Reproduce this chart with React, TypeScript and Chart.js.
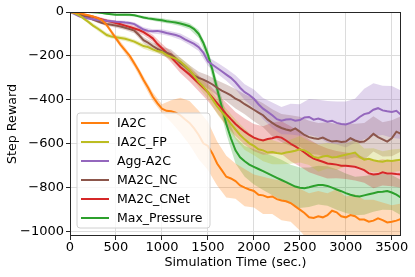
import React, { useEffect, useRef } from 'react';
import { Chart, registerables } from 'chart.js';

Chart.register(...registerables);

const lineTimes = [0, 50, 100, 150, 200, 250, 300, 350, 400, 450, 500, 550, 600, 650, 700, 750, 800, 850, 900, 950, 1000, 1050, 1100, 1150, 1200, 1250, 1300, 1350, 1400, 1450, 1500, 1550, 1600, 1650, 1700, 1750, 1800, 1850, 1900, 1950, 2000, 2050, 2100, 2150, 2200, 2250, 2300, 2350, 2400, 2450, 2500, 2550, 2600, 2650, 2700, 2750, 2800, 2850, 2900, 2950, 3000, 3050, 3100, 3150, 3200, 3250, 3300, 3350, 3400, 3450, 3500, 3550, 3600];
const bandTimes = [0, 100, 200, 300, 400, 500, 600, 700, 800, 900, 1000, 1100, 1200, 1300, 1400, 1500, 1600, 1700, 1800, 1900, 2000, 2100, 2200, 2300, 2400, 2500, 2600, 2700, 2800, 2900, 3000, 3100, 3200, 3300, 3400, 3500, 3600];

const xTicks = [0, 500, 1000, 1500, 2000, 2500, 3000, 3500];
const yTicks = [0, -200, -400, -600, -800, -1000];

const seriesNames = ['IA2C', 'IA2C_FP', 'Agg-A2C', 'MA2C_NC', 'MA2C_CNet', 'Max_Pressure'];
const seriesColors = ['#ff7f0e', '#bcbd22', '#9467bd', '#8c564b', '#d62728', '#2ca02c'];

// mean lines (every 50 s)
const ia2c = [0, -2, -5, -10, -15, -20, -28, -38, -60, -90, -120, -150, -175, -200, -235, -270, -310, -345, -385, -415, -440, -450, -452, -458, -470, -488, -505, -530, -560, -598, -610, -645, -690, -720, -750, -758, -770, -790, -800, -808, -815, -832, -835, -843, -840, -852, -858, -862, -870, -885, -900, -915, -935, -938, -930, -935, -925, -905, -912, -930, -935, -925, -930, -945, -945, -955, -950, -940, -948, -958, -955, -950, -942];
const ia2cFp = [0, -5, -15, -30, -45, -62, -75, -90, -105, -112, -115, -118, -122, -128, -135, -145, -155, -160, -170, -178, -182, -195, -205, -212, -226, -245, -265, -290, -318, -340, -365, -398, -430, -455, -480, -510, -535, -560, -580, -598, -610, -625, -630, -640, -638, -642, -645, -640, -636, -632, -625, -630, -642, -660, -665, -658, -655, -662, -660, -655, -650, -645, -640, -660, -672, -668, -675, -680, -682, -676, -678, -675, -673];
const aggA2c = [0, -10, -20, -26, -30, -33, -36, -38, -40, -42, -44, -45, -48, -50, -55, -68, -80, -86, -88, -86, -90, -96, -100, -105, -112, -125, -135, -145, -160, -185, -225, -240, -255, -270, -285, -300, -320, -345, -365, -378, -395, -420, -440, -455, -470, -488, -495, -490, -488, -495, -492, -480, -478, -490, -485, -492, -500, -495, -505, -510, -512, -505, -495, -478, -465, -460, -445, -438, -448, -452, -455, -450, -468];
const ma2cNc = [0, -5, -10, -18, -25, -35, -42, -50, -55, -58, -62, -66, -72, -78, -85, -105, -128, -140, -155, -168, -178, -185, -193, -212, -232, -248, -268, -290, -300, -308, -318, -330, -345, -358, -368, -380, -395, -405, -420, -432, -445, -458, -470, -490, -505, -518, -528, -535, -540, -530, -545, -560, -570, -575, -578, -572, -582, -590, -588, -592, -590, -575, -585, -592, -590, -575, -555, -570, -580, -590, -575, -545, -555];
const ma2cCnet = [0, -3, -6, -12, -18, -22, -28, -34, -40, -45, -50, -56, -62, -68, -75, -82, -92, -105, -120, -145, -165, -185, -205, -228, -250, -268, -285, -305, -325, -345, -365, -390, -415, -440, -465, -488, -510, -528, -545, -560, -572, -580, -585, -578, -575, -568, -572, -585, -600, -612, -625, -640, -655, -668, -675, -682, -690, -692, -695, -700, -700, -702, -705, -712, -720, -735, -740, -738, -730, -735, -735, -738, -740];
const maxPressure = [0, 0, 0, 0, 0, -1, -2, -5, -8, -10, -12, -13, -12, -13, -15, -20, -25, -29, -32, -35, -38, -42, -45, -48, -52, -58, -65, -78, -100, -140, -195, -265, -350, -430, -510, -575, -630, -662, -680, -695, -705, -715, -725, -735, -745, -755, -765, -775, -785, -795, -800, -802, -798, -792, -788, -788, -792, -800, -808, -816, -825, -832, -838, -840, -835, -830, -825, -820, -818, -815, -822, -832, -845];

// shaded band half-widths (every 100 s)
const ia2cSpread = [0, 3, 5, 8, 10, 12, 15, 15, 18, 20, 20, 50, 80, 100, 110, 110, 100, 95, 80, 85, 75, 85, 80, 90, 85, 95, 110, 115, 100, 105, 95, 100, 90, 95, 80, 75, 70];
const ia2cFpSpread = [0, 5, 8, 10, 10, 10, 10, 10, 12, 12, 12, 15, 18, 22, 25, 30, 35, 40, 45, 48, 42, 50, 55, 48, 55, 60, 55, 62, 58, 60, 52, 58, 50, 55, 48, 52, 50];
const aggA2cSpread = [0, 4, 5, 6, 6, 7, 8, 8, 10, 10, 12, 12, 14, 15, 18, 20, 25, 28, 32, 36, 42, 48, 58, 62, 70, 72, 82, 85, 95, 98, 105, 100, 115, 120, 112, 118, 110];
const ma2cNcSpread = [0, 5, 6, 8, 8, 10, 10, 12, 14, 16, 20, 22, 24, 26, 28, 30, 34, 38, 44, 46, 52, 55, 62, 64, 70, 68, 75, 72, 80, 78, 82, 76, 84, 80, 78, 82, 80];
const ma2cCnetSpread = [0, 5, 6, 8, 8, 10, 10, 12, 14, 16, 20, 24, 28, 32, 36, 40, 45, 52, 55, 60, 62, 65, 72, 75, 80, 78, 75, 70, 68, 62, 60, 62, 58, 62, 60, 58, 60];
const maxPressureSpread = [0, 2, 3, 4, 5, 5, 6, 6, 7, 8, 10, 10, 12, 14, 18, 25, 35, 45, 60, 70, 80, 85, 90, 92, 90, 92, 90, 88, 90, 92, 90, 88, 88, 85, 82, 80, 80];

const allMeans = [ia2c, ia2cFp, aggA2c, ma2cNc, ma2cCnet, maxPressure];
const allSpreads = [ia2cSpread, ia2cFpSpread, aggA2cSpread, ma2cNcSpread, ma2cCnetSpread, maxPressureSpread];

const FONT = "'DejaVu Sans', sans-serif";

function hexA(hex: string, a: number) {
  const r = parseInt(hex.slice(1, 3), 16);
  const g = parseInt(hex.slice(3, 5), 16);
  const b = parseInt(hex.slice(5, 7), 16);
  return `rgba(${r},${g},${b},${a})`;
}

function meanAt(mean: number[], t: number) {
  const idx = lineTimes.indexOf(t);
  return mean[idx];
}

const framePlugin = {
  id: 'frame',
  afterDraw(chart: any) {
    const { ctx, chartArea } = chart;
    ctx.save();
    ctx.strokeStyle = '#262626';
    ctx.lineWidth = 1;
    ctx.strokeRect(chartArea.left + 0.5, chartArea.top + 0.5, chartArea.right - chartArea.left - 1, chartArea.bottom - chartArea.top - 1);
    ctx.restore();
  },
};

const legendPlugin = {
  id: 'boxLegend',
  afterDatasetsDraw(chart: any) {
    const { ctx, chartArea } = chart;
    const x0 = chartArea.left + 7;
    const y0 = chartArea.top + 101;
    const w = 133;
    const h = 115;
    const r = 3;
    ctx.save();
    ctx.beginPath();
    ctx.moveTo(x0 + r, y0);
    ctx.lineTo(x0 + w - r, y0);
    ctx.quadraticCurveTo(x0 + w, y0, x0 + w, y0 + r);
    ctx.lineTo(x0 + w, y0 + h - r);
    ctx.quadraticCurveTo(x0 + w, y0 + h, x0 + w - r, y0 + h);
    ctx.lineTo(x0 + r, y0 + h);
    ctx.quadraticCurveTo(x0, y0 + h, x0, y0 + h - r);
    ctx.lineTo(x0, y0 + r);
    ctx.quadraticCurveTo(x0, y0, x0 + r, y0);
    ctx.closePath();
    ctx.fillStyle = 'rgba(255,255,255,0.8)';
    ctx.fill();
    ctx.strokeStyle = '#d0d0d0';
    ctx.lineWidth = 1;
    ctx.stroke();
    ctx.font = `12.5px ${FONT}`;
    ctx.textBaseline = 'middle';
    ctx.textAlign = 'left';
    seriesNames.forEach((name, i) => {
      const yy = y0 + 10 + i * 19;
      ctx.strokeStyle = seriesColors[i];
      ctx.lineWidth = 2;
      ctx.beginPath();
      ctx.moveTo(x0 + 4, yy);
      ctx.lineTo(x0 + 32, yy);
      ctx.stroke();
      ctx.fillStyle = '#000';
      ctx.fillText(name, x0 + 40, yy + 0.5);
    });
    ctx.restore();
  },
};

export default function App() {
  const canvasRef = useRef<HTMLCanvasElement | null>(null);

  useEffect(() => {
    document.body.style.margin = '0';
    const canvas = canvasRef.current;
    if (!canvas) return;

    const datasets: any[] = [];
    allMeans.forEach((mean, i) => {
      const upper = bandTimes.map((t, k) => ({ x: t, y: meanAt(mean, t) + allSpreads[i][k] }));
      const lower = bandTimes.map((t, k) => ({ x: t, y: meanAt(mean, t) - allSpreads[i][k] }));
      const upIndex = datasets.length;
      datasets.push({
        data: upper,
        borderWidth: 0,
        pointRadius: 0,
        borderColor: 'rgba(0,0,0,0)',
        fill: false,
        order: 10,
      });
      datasets.push({
        data: lower,
        borderWidth: 0,
        pointRadius: 0,
        borderColor: 'rgba(0,0,0,0)',
        backgroundColor: hexA(seriesColors[i], 0.28),
        fill: { target: upIndex },
        order: 10,
      });
    });
    allMeans.forEach((mean, i) => {
      datasets.push({
        label: seriesNames[i],
        data: mean.map((v, k) => ({ x: lineTimes[k], y: v })),
        borderColor: seriesColors[i],
        borderWidth: 2,
        pointRadius: 0,
        fill: false,
        order: 0,
      });
    });

    const chart = new Chart(canvas, {
      type: 'line',
      data: { datasets },
      plugins: [framePlugin, legendPlugin],
      options: {
        animation: false,
        responsive: false,
        maintainAspectRatio: false,
        layout: { padding: { top: 12, right: 14, left: 0, bottom: 0 } },
        plugins: {
          legend: { display: false },
          tooltip: { enabled: false },
        },
        scales: {
          x: {
            type: 'linear',
            min: 0,
            max: 3600,
            afterBuildTicks: (scale: any) => {
              scale.ticks = xTicks.map((v) => ({ value: v }));
            },
            afterFit: (scale: any) => {
              scale.height = 41;
            },
            ticks: {
              font: { family: FONT, size: 13 },
              color: '#000',
              padding: 0,
              maxRotation: 0,
              autoSkip: false,
              callback: (v: any) => String(v),
            },
            grid: {
              color: '#dcdcdc',
              tickColor: '#262626',
              tickLength: 4,
            },
            border: { display: false },
            title: {
              display: true,
              text: 'Simulation Time (sec.)',
              font: { family: FONT, size: 12.7 },
              color: '#000',
              padding: { top: 0, bottom: 7 },
            },
          },
          y: {
            type: 'linear',
            min: -1020,
            max: 0,
            afterBuildTicks: (scale: any) => {
              scale.ticks = yTicks.map((v) => ({ value: v }));
            },
            afterFit: (scale: any) => {
              scale.width = 70;
            },
            ticks: {
              font: { family: FONT, size: 13 },
              color: '#000',
              padding: 2,
              callback: (v: any) => (Number(v) < 0 ? '\u2212' + Math.abs(Number(v)) : String(v)),
            },
            grid: {
              color: '#dcdcdc',
              tickColor: '#262626',
              tickLength: 4,
            },
            border: { display: false },
            title: {
              display: true,
              text: 'Step Reward',
              font: { family: FONT, size: 12.7 },
              color: '#000',
              padding: { top: 5, bottom: 0 },
            },
          },
        },
      },
    });

    return () => {
      chart.destroy();
    };
  }, []);

  return (
    <div style={{ width: 415, height: 277 }}>
      <canvas ref={canvasRef} width={415} height={277} style={{ display: 'block', width: 415, height: 277 }} />
    </div>
  );
}
